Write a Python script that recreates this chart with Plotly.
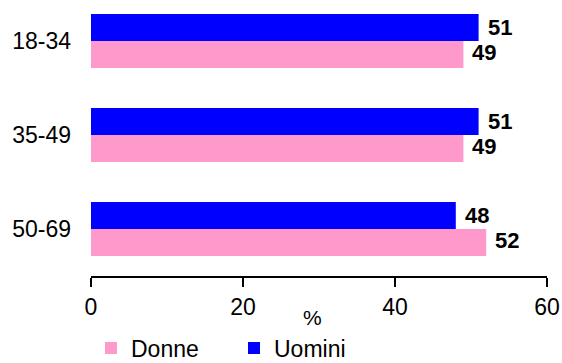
import plotly.graph_objects as go

# Age groups and shares (%) by sex
age_groups = ["18-34", "35-49", "50-69"]
uomini = [51, 51, 48]
donne = [49, 49, 52]
x_ticks = [0, 20, 40, 60]

BLUE = "#0000FF"
PINK = "#FF99CC"
FONT = "Liberation Sans, Arial, sans-serif"

fig = go.Figure()
fig.add_trace(go.Bar(
    y=age_groups, x=uomini, orientation="h", name="Uomini",
    marker=dict(color=BLUE, line=dict(width=0)), legendrank=2,
))
fig.add_trace(go.Bar(
    y=age_groups, x=donne, orientation="h", name="Donne",
    marker=dict(color=PINK, line=dict(width=0)), legendrank=1,
))

# value labels beside each bar
annotations = []
for i, g in enumerate(age_groups):
    for val, shift in ((uomini[i], 13.5), (donne[i], -11.5)):
        annotations.append(dict(
            x=val, y=g, xref="x", yref="y", text=str(val), showarrow=False,
            xanchor="left", yanchor="middle", xshift=7, yshift=shift,
            font=dict(family=FONT, size=22, color="black", weight="bold"),
        ))
# axis title
annotations.append(dict(
    x=0.485, y=-(317 - 276) / 276, xref="paper", yref="paper", text="%",
    showarrow=False, yanchor="middle",
    font=dict(family=FONT, size=21, color="black"),
))

fig.update_layout(
    width=562, height=363,
    margin=dict(l=91, r=15, t=0, b=87, autoexpand=False),
    paper_bgcolor="white", plot_bgcolor="white",
    barmode="group", bargap=0.426, bargroupgap=0,
    font=dict(family=FONT, size=23, color="black"),
    showlegend=True,
    legend=dict(
        orientation="h", x=0.0, xanchor="left",
        yref="container", y=(363 - 348) / 363, yanchor="middle",
        font=dict(family=FONT, size=23, color="black"),
        entrywidth=98, bgcolor="rgba(0,0,0,0)",
    ),
    annotations=annotations,
    xaxis=dict(
        range=[0, 60], tickvals=x_ticks, showgrid=False, zeroline=False,
        showline=True, linecolor="black", linewidth=2,
        ticks="outside", ticklen=9, tickwidth=2, tickcolor="black",
        tickfont=dict(family=FONT, size=23, color="black"),
    ),
    yaxis=dict(
        categoryorder="array", categoryarray=age_groups,
        range=[2.5, -0.436], showgrid=False, zeroline=False, showline=False,
        ticks="", ticklabelstandoff=19,
        tickfont=dict(family=FONT, size=23, color="black"),
    ),
)

fig.write_html("out.html")
